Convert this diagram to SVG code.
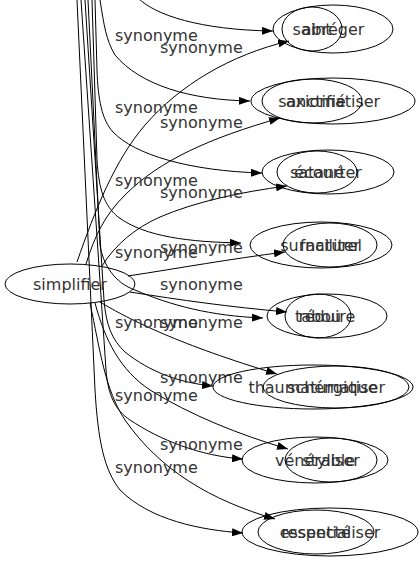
<svg xmlns="http://www.w3.org/2000/svg" width="420" height="563" viewBox="0 0 420 563">
<defs>
<marker id="arr" markerWidth="11" markerHeight="8" refX="11" refY="4" orient="auto" markerUnits="userSpaceOnUse"><path d="M0,0 L11,4 L0,8 z" fill="#000"/></marker>
</defs>
<style>
ellipse{fill:none;stroke:#000;stroke-width:1}
text{font-family:"DejaVu Sans",sans-serif;font-size:16px;fill:#333}
.n text{text-anchor:middle}
#edges path{fill:none;stroke:#000;stroke-width:1;marker-end:url(#arr)}
</style>
<rect width="420" height="563" fill="#fff"/>
<g id="edges">
<path d="M138,-2 C155,15 200,30 273,31"/>
<path d="M100,0 C104,25 106,40 115,55 C140,85 190,100 250,101"/>
<path d="M95,0 L97,70 C98,100 102,120 113,132 C135,155 190,171 262,173"/>
<path d="M92,0 L97,160 C99,190 104,205 118,217 C145,237 190,242 241,243"/>
<path d="M88,0 L100,245 C103,265 115,283 135,290 C170,305 210,316 263,318"/>
<path d="M85,0 L104,300 C106,325 112,340 125,352 C150,372 180,383 213,386"/>
<path d="M81,0 L106,370 C108,395 115,410 130,420 C160,440 200,456 243,459"/>
<path d="M77,0 L95,390 C98,440 104,470 120,490 C150,520 200,530 243,533"/>
<path d="M77,262 C95,210 115,160 145,125 C180,85 230,55 289,41"/>
<path d="M86,264 C95,235 105,215 125,195 C160,160 210,138 280,118"/>
<path d="M102,266 C115,245 135,228 160,217 C195,202 240,192 287,186"/>
<path d="M128,276 C180,268 230,259 285,252"/>
<path d="M130,292 C180,300 230,307 287,312"/>
<path d="M100,302 C130,320 180,345 277,374"/>
<path d="M95,303 C105,340 120,370 150,390 C190,415 240,435 288,449"/>
<path d="M90,303 C100,350 105,390 125,420 C160,470 210,500 275,519"/>
</g>
<g id="labels">
<text x="115" y="41">synonyme</text>
<text x="160" y="53">synonyme</text>
<text x="115" y="113">synonyme</text>
<text x="160" y="128">synonyme</text>
<text x="115" y="186">synonyme</text>
<text x="160" y="198">synonyme</text>
<text x="115" y="258">synonyme</text>
<text x="160" y="253">synonyme</text>
<text x="160" y="290">synonyme</text>
<text x="115" y="328">synonyme</text>
<text x="160" y="328">synonyme</text>
<text x="160" y="383">synonyme</text>
<text x="115" y="401">synonyme</text>
<text x="160" y="450">synonyme</text>
<text x="115" y="473">synonyme</text>
</g>
<g id="simplifier" class="n"><ellipse cx="70" cy="284" rx="65" ry="20"/><text x="70" y="290">simplifier</text></g>
<g id="abreger" class="n"><ellipse cx="333" cy="29" rx="60" ry="24"/><text x="333" y="35">abréger</text></g>
<g id="saint" class="n"><ellipse cx="312" cy="29" rx="30" ry="22"/><text x="312" y="35">saint</text></g>
<g id="axiomatiser" class="n"><ellipse cx="333" cy="101" rx="82" ry="23"/><text x="333" y="107">axiomatiser</text></g>
<g id="sanctifie" class="n"><ellipse cx="312" cy="101" rx="50" ry="22"/><text x="312" y="107">sanctifié</text></g>
<g id="ecourter" class="n"><ellipse cx="328" cy="172" rx="66" ry="22"/><text x="328" y="178">écourter</text></g>
<g id="satane" class="n"><ellipse cx="317" cy="172" rx="40" ry="21"/><text x="317" y="178">satané</text></g>
<g id="surnaturel" class="n"><ellipse cx="321" cy="245" rx="71" ry="23"/><text x="321" y="251">surnaturel</text></g>
<g id="faciliter" class="n"><ellipse cx="330" cy="245" rx="47" ry="22"/><text x="330" y="251">faciliter</text></g>
<g id="reduire" class="n"><ellipse cx="327" cy="316" rx="60" ry="22"/><text x="327" y="322">réduire</text></g>
<g id="tabou" class="n"><ellipse cx="318" cy="316" rx="33" ry="22"/><text x="318" y="322">tabou</text></g>
<g id="thaumaturgique" class="n"><ellipse cx="313" cy="387" rx="100" ry="22"/><text x="313" y="393">thaumaturgique</text></g>
<g id="schematiser" class="n"><ellipse cx="336" cy="387" rx="73" ry="21"/><text x="336" y="393">schématiser</text></g>
<g id="venerable" class="n"><ellipse cx="315" cy="460" rx="73" ry="23"/><text x="315" y="466">vénérable</text></g>
<g id="styliser" class="n"><ellipse cx="331" cy="460" rx="46" ry="22"/><text x="331" y="466">styliser</text></g>
<g id="essentialiser" class="n"><ellipse cx="330" cy="532" rx="88" ry="24"/><text x="330" y="538">essentialiser</text></g>
<g id="respecte" class="n"><ellipse cx="316" cy="532" rx="58" ry="22"/><text x="316" y="538">respecté</text></g>
</svg>
